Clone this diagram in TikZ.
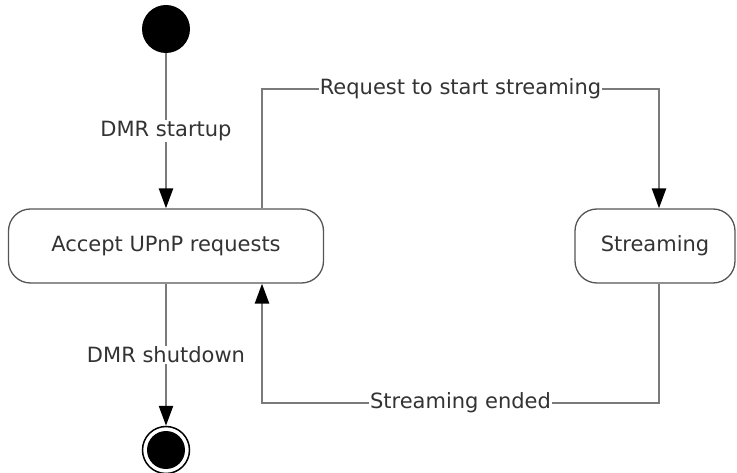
\documentclass[tikz,border=0pt]{standalone}
\usepackage{fontspec}
\setmainfont{DejaVu Sans}
\usetikzlibrary{arrows.meta}
\definecolor{linec}{HTML}{7A7A7A}
\definecolor{boxc}{HTML}{555555}
\definecolor{txt}{HTML}{333333}
\begin{document}
\begin{tikzpicture}[x=1pt,y=-1pt,
  state/.style={draw=boxc, line width=1.3pt, rounded corners=22pt, minimum height=74pt,
    inner sep=0pt, font=\fontsize{21}{25}\selectfont, text=txt},
  conn/.style={draw=linec, line width=2.5pt, -{Triangle[length=20pt,width=14pt,color=black]}},
  lbl/.style={fill=white, inner sep=1pt, text=txt, font=\fontsize{21}{25}\selectfont}]
\useasboundingbox (0,0) rectangle (737,473);
\node[circle, fill=black, minimum size=48pt, inner sep=0pt] (start) at (166,29) {};
\node[state, minimum width=315pt] (acc) at (166,246) {Accept UPnP requests};
\node[state, minimum width=160pt] (str) at (655,246) {Streaming};
\node[circle, draw=black, line width=1.5pt, minimum size=47pt, inner sep=0pt] (endc) at (166,450) {};
\node[circle, fill=black, minimum size=38pt, inner sep=0pt] (endin) at (endc.center) {};
\coordinate (tl) at (262,89);
\coordinate (tr) at (659,89);
\coordinate (bl) at (262,403);
\coordinate (br) at (659,403);
\draw[conn] (start) -- node[lbl]{DMR startup} (acc);
\draw[conn] (acc) -- node[lbl]{DMR shutdown} (endc);
\draw[conn] (acc.north -| tl) -- (tl) -- node[lbl]{Request to start streaming} (tr) -- (str.north -| tr);
\draw[conn] (str.south -| br) -- (br) -- node[lbl]{Streaming ended} (bl) -- (acc.south -| bl);
\end{tikzpicture}
\end{document}
